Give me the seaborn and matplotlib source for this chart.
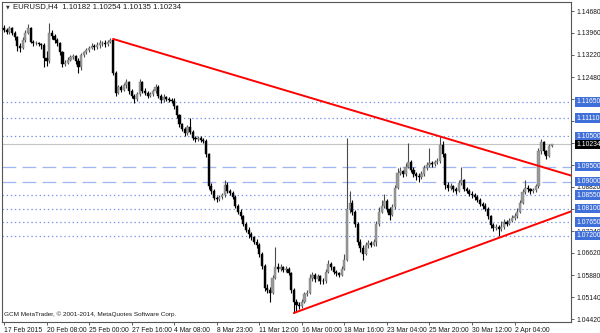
import matplotlib
matplotlib.use('Agg')
import matplotlib.pyplot as plt
import matplotlib.transforms as mtransforms
import seaborn as sns
import numpy as np
import pandas as pd

# ---------------- data (EURUSD H4) ----------------
opens = [
    1.1410, 1.1405, 1.1398, 1.1410, 1.1395, 1.1380, 1.1350, 1.1345, 1.1370, 1.1395,
    1.1410, 1.1365, 1.1360, 1.1362, 1.1358, 1.1355, 1.1310, 1.1300, 1.1395, 1.1385,
    1.1370, 1.1360, 1.1330, 1.1290, 1.1295, 1.1305, 1.1315, 1.1318, 1.1300, 1.1280,
    1.1320, 1.1330, 1.1338, 1.1345, 1.1350, 1.1348, 1.1355, 1.1360, 1.1362, 1.1358,
    1.1365, 1.1372, 1.1260, 1.1195, 1.1215, 1.1205, 1.1220, 1.1230, 1.1200, 1.1185,
    1.1175, 1.1190, 1.1230, 1.1200, 1.1195, 1.1185, 1.1190, 1.1200, 1.1215, 1.1185,
    1.1170, 1.1180, 1.1175, 1.1172,
    1.1168, 1.1150, 1.1120, 1.1090, 1.1075, 1.1060, 1.1080,
    1.1065, 1.1045, 1.1040, 1.1045, 1.1038, 1.1035, 1.0990, 1.0885, 1.0870, 1.0845,
    1.0842, 1.0848, 1.0855, 1.0890, 1.0870, 1.0862, 1.0850, 1.0820, 1.0800, 1.0785,
    1.0760, 1.0740, 1.0725, 1.0715, 1.0700, 1.0690, 1.0660, 1.0620, 1.0545, 1.0540,
    1.0530, 1.0580, 1.0615, 1.0610, 1.0615, 1.0605, 1.0610, 1.0595, 1.0540, 1.0500,
    1.0490, 1.0485, 1.0500, 1.0525, 1.0530, 1.0580, 1.0590, 1.0575, 1.0585, 1.0570,
    1.0568, 1.0600, 1.0625, 1.0615, 1.0600, 1.0595, 1.0590, 1.0610, 1.0640, 1.0810,
    1.0830, 1.0800, 1.0760, 1.0700, 1.0680, 1.0660, 1.0690, 1.0695, 1.0690,
    1.0700, 1.0760, 1.0800, 1.0820, 1.0835, 1.0810, 1.0790, 1.0815, 1.0880, 1.0930, 1.0935, 1.0925,
    1.0950, 1.0965, 1.0940, 1.0925, 1.0920, 1.0915, 1.0925, 1.0945, 1.0955, 1.0960,
    1.0958, 1.0965, 1.0968, 1.1020, 1.0990, 1.0890, 1.0880, 1.0885, 1.0875, 1.0870,
    1.0895, 1.0905, 1.0875, 1.0870, 1.0860, 1.0855, 1.0848, 1.0840, 1.0825, 1.0820,
    1.0810, 1.0785, 1.0755, 1.0745, 1.0750, 1.0742, 1.0748, 1.0765, 1.0760, 1.0770,
    1.0780, 1.0785, 1.0800, 1.0830, 1.0865, 1.0880, 1.0875, 1.0868, 1.0872, 1.0885,
    1.1000, 1.1030, 1.1000, 1.0985, 1.10182,
]
highs = [
    1.1420, 1.1412, 1.1418, 1.1415, 1.1400, 1.1385, 1.1360, 1.1380, 1.1405, 1.1425,
    1.1415, 1.1372, 1.1368, 1.1366, 1.1362, 1.1360, 1.1335, 1.1428, 1.1405, 1.1392,
    1.1378, 1.1365, 1.1335, 1.1305, 1.1315, 1.1322, 1.1325, 1.1322, 1.1310, 1.1328,
    1.1336, 1.1345, 1.1352, 1.1362, 1.1358, 1.1365, 1.1370, 1.1368, 1.1370, 1.1372,
    1.1377, 1.1375, 1.1268, 1.1222, 1.1220, 1.1228, 1.1240, 1.1235, 1.1208, 1.1192,
    1.1198, 1.1240, 1.1235, 1.1210, 1.1200, 1.1198, 1.1208, 1.1225, 1.1220, 1.1190,
    1.1190, 1.1185, 1.1180, 1.1178,
    1.1178, 1.1155, 1.1125, 1.1095, 1.1080, 1.1088, 1.1112,
    1.1070, 1.1050, 1.1052, 1.1050, 1.1045, 1.1040, 1.0995, 1.0895, 1.0875, 1.0852,
    1.0855, 1.0862, 1.0905, 1.0898, 1.0875, 1.0868, 1.0855, 1.0825, 1.0808, 1.0790,
    1.0765, 1.0748, 1.0732, 1.0720, 1.0708, 1.0695, 1.0665, 1.0625, 1.0558, 1.0548,
    1.0590, 1.0682, 1.0628, 1.0625, 1.0620, 1.0618, 1.0615, 1.0600, 1.0545, 1.0510,
    1.0498, 1.0508, 1.0532, 1.0540, 1.0592, 1.0600, 1.0595, 1.0592, 1.0590, 1.0578,
    1.0610, 1.0640, 1.0632, 1.0620, 1.0605, 1.0600, 1.0618, 1.0660, 1.1045, 1.0870,
    1.0840, 1.0805, 1.0765, 1.0710, 1.0688, 1.0700, 1.0705, 1.0702, 1.0708,
    1.0770, 1.0815, 1.0840, 1.0860, 1.0842, 1.0815, 1.0825, 1.0890, 1.0945, 1.0948, 1.0940, 1.0960,
    1.1028, 1.0970, 1.0948, 1.0932, 1.0928, 1.0935, 1.0955, 1.0965, 1.1012, 1.0968,
    1.0972, 1.0978, 1.1050, 1.1035, 1.0995, 1.0900, 1.0895, 1.0890, 1.0882, 1.0905,
    1.0948, 1.0910, 1.0882, 1.0876, 1.0868, 1.0862, 1.0855, 1.0845, 1.0832, 1.0828,
    1.0815, 1.0790, 1.0762, 1.0760, 1.0755, 1.0770, 1.0775, 1.0772, 1.0778, 1.0788,
    1.0795, 1.0812, 1.0840, 1.0875, 1.0905, 1.0888, 1.0880, 1.0880, 1.0892, 1.1010,
    1.1040, 1.1035, 1.1005, 1.1025, 1.10254,
]
lows = [
    1.1398, 1.1390, 1.1392, 1.1388, 1.1372, 1.1335, 1.1330, 1.1340, 1.1365, 1.1390,
    1.1360, 1.1352, 1.1355, 1.1350, 1.1340, 1.1280, 1.1285, 1.1295, 1.1375, 1.1362,
    1.1352, 1.1322, 1.1282, 1.1285, 1.1290, 1.1300, 1.1308, 1.1292, 1.1262, 1.1272,
    1.1315, 1.1325, 1.1332, 1.1340, 1.1338, 1.1342, 1.1345, 1.1350, 1.1348, 1.1352,
    1.1360, 1.1255, 1.1185, 1.1190, 1.1198, 1.1200, 1.1212, 1.1192, 1.1178, 1.1162,
    1.1168, 1.1185, 1.1195, 1.1188, 1.1178, 1.1180, 1.1185, 1.1195, 1.1178, 1.1162,
    1.1165, 1.1168, 1.1165, 1.1160,
    1.1142, 1.1112, 1.1082, 1.1068, 1.1052, 1.1055, 1.1058,
    1.1038, 1.1030, 1.1035, 1.1030, 1.1028, 1.0982, 1.0875, 1.0860, 1.0838, 1.0832,
    1.0835, 1.0842, 1.0850, 1.0862, 1.0855, 1.0842, 1.0812, 1.0792, 1.0775, 1.0752,
    1.0732, 1.0712, 1.0705, 1.0692, 1.0680, 1.0650, 1.0610, 1.0535, 1.0530, 1.0499,
    1.0525, 1.0575, 1.0600, 1.0602, 1.0598, 1.0598, 1.0588, 1.0530, 1.0462, 1.0470,
    1.0475, 1.0478, 1.0495, 1.0518, 1.0525, 1.0570, 1.0565, 1.0568, 1.0560, 1.0558,
    1.0562, 1.0595, 1.0605, 1.0592, 1.0585, 1.0582, 1.0585, 1.0605, 1.0635, 1.0795,
    1.0790, 1.0750, 1.0690, 1.0665, 1.0640, 1.0655, 1.0680, 1.0682, 1.0685,
    1.0685, 1.0752, 1.0795, 1.0812, 1.0800, 1.0772, 1.0785, 1.0810, 1.0875, 1.0922, 1.0915, 1.0920,
    1.0945, 1.0932, 1.0915, 1.0905, 1.0900, 1.0908, 1.0920, 1.0940, 1.0950, 1.0948,
    1.0952, 1.0958, 1.0962, 1.0980, 1.0875, 1.0870, 1.0872, 1.0865, 1.0860, 1.0865,
    1.0890, 1.0868, 1.0862, 1.0852, 1.0845, 1.0840, 1.0832, 1.0818, 1.0810, 1.0802,
    1.0775, 1.0745, 1.0735, 1.0738, 1.0718, 1.0735, 1.0742, 1.0752, 1.0755, 1.0765,
    1.0772, 1.0780, 1.0795, 1.0825, 1.0858, 1.0865, 1.0860, 1.0862, 1.0865, 1.0880,
    1.0990, 1.0990, 1.0975, 1.0980, 1.10135,
]
closes = [
    1.1405, 1.1398, 1.1410, 1.1395, 1.1380, 1.1350, 1.1345, 1.1370, 1.1395, 1.1410,
    1.1365, 1.1360, 1.1362, 1.1358, 1.1355, 1.1310, 1.1300, 1.1395, 1.1385, 1.1370,
    1.1360, 1.1330, 1.1290, 1.1295, 1.1305, 1.1315, 1.1318, 1.1300, 1.1280, 1.1320,
    1.1330, 1.1338, 1.1345, 1.1350, 1.1348, 1.1355, 1.1360, 1.1362, 1.1358, 1.1365,
    1.1372, 1.1260, 1.1195, 1.1215, 1.1205, 1.1220, 1.1230, 1.1200, 1.1185, 1.1175,
    1.1190, 1.1230, 1.1200, 1.1195, 1.1185, 1.1190, 1.1200, 1.1215, 1.1185, 1.1170,
    1.1180, 1.1175, 1.1172, 1.1168,
    1.1150, 1.1120, 1.1090, 1.1075, 1.1060, 1.1080, 1.1065,
    1.1045, 1.1040, 1.1045, 1.1038, 1.1035, 1.0990, 1.0885, 1.0870, 1.0845, 1.0842,
    1.0848, 1.0855, 1.0890, 1.0870, 1.0862, 1.0850, 1.0820, 1.0800, 1.0785, 1.0760,
    1.0740, 1.0725, 1.0715, 1.0700, 1.0690, 1.0660, 1.0620, 1.0545, 1.0540, 1.0530,
    1.0580, 1.0615, 1.0610, 1.0615, 1.0605, 1.0610, 1.0595, 1.0540, 1.0500, 1.0490,
    1.0485, 1.0500, 1.0525, 1.0530, 1.0580, 1.0590, 1.0575, 1.0585, 1.0570, 1.0568,
    1.0600, 1.0625, 1.0615, 1.0600, 1.0595, 1.0590, 1.0610, 1.0640, 1.0810, 1.0830,
    1.0800, 1.0760, 1.0700, 1.0680, 1.0660, 1.0690, 1.0695, 1.0690, 1.0700,
    1.0760, 1.0800, 1.0820, 1.0835, 1.0810, 1.0790, 1.0815, 1.0880, 1.0930, 1.0935, 1.0925, 1.0950,
    1.0965, 1.0940, 1.0925, 1.0920, 1.0915, 1.0925, 1.0945, 1.0955, 1.0960, 1.0958,
    1.0965, 1.0968, 1.1020, 1.0990, 1.0890, 1.0880, 1.0885, 1.0875, 1.0870, 1.0895,
    1.0905, 1.0875, 1.0870, 1.0860, 1.0855, 1.0848, 1.0840, 1.0825, 1.0820, 1.0810,
    1.0785, 1.0755, 1.0745, 1.0750, 1.0742, 1.0748, 1.0765, 1.0760, 1.0770, 1.0780,
    1.0785, 1.0800, 1.0830, 1.0865, 1.0880, 1.0875, 1.0868, 1.0872, 1.0885, 1.1000,
    1.1030, 1.1000, 1.0985, 1.1018, 1.10234,
]

x_tick_bars = [0, 16, 32, 48, 64, 80, 96, 112, 128, 144, 160, 176, 192]
x_tick_labels = ['17 Feb 2015', '20 Feb 08:00', '25 Feb 00:00', '27 Feb 16:00',
                 '4 Mar 08:00', '8 Mar 23:00', '11 Mar 12:00', '16 Mar 00:00',
                 '18 Mar 16:00', '23 Mar 04:00', '25 Mar 20:00', '30 Mar 12:00',
                 '2 Apr 04:00']
y_tick_values = [1.14680, 1.13960, 1.13220, 1.12480, 1.11750, 1.11010, 1.10280,
                 1.09550, 1.08820, 1.08080, 1.07340, 1.06620, 1.05880, 1.05140,
                 1.04420]
y_tick_labels = ['1.14680', '1.13960', '1.13220', '1.12480', '', '', '',
                 '', '1.08820', '', '1.07340', '1.06620', '1.05880', '1.05140',
                 '1.04420']
dotted_levels = [1.11650, 1.11110, 1.10500, 1.08550, 1.08100, 1.07650, 1.07200]
dashed_levels = [1.09500, 1.09000]
last_price = 1.10234
upper_trend_bars = [41, 164]
upper_trend_prices = [1.1375, 1.1050]
lower_trend_bars = [109, 186]
lower_trend_prices = [1.0462, 1.0712]
header_text = 'EURUSD,H4  1.10182 1.10254 1.10135 1.10234'
footer_text = 'GCM MetaTrader, \u00a9 2001-2014, MetaQuotes Software Corp.'

# ---------------- style ----------------
sns.set_theme(style='white')
plt.rcParams['font.family'] = ['Liberation Sans', 'DejaVu Sans']
TXT = '#1a1a1a'
BOX_BLUE = '#3f6fd8'
DOT_BLUE = '#7894e8'
DASH_BLUE = '#a0b5f2'
FS = 4.9

W, H = 600, 333
fig = plt.figure(figsize=(W / 100, H / 100), dpi=100)
ax_l, ax_r, ax_t, ax_b = 2, 571, 2, 322
ax = fig.add_axes([ax_l / W, 1 - ax_b / H, (ax_r - ax_l) / W, (ax_b - ax_t) / H])
fig.patch.set_facecolor('white')
ax.set_facecolor('white')

# pixel mapping -> limits
px_per_bar = 2.659
x0_px = 4
ax.set_xlim((ax_l - x0_px) / px_per_bar, (ax_r - x0_px) / px_per_bar)
price_per_px = (1.14680 - 1.04420) / (319 - 11)
ax.set_ylim(1.14680 - (ax_b - 11) * price_per_px, 1.14680 + (11 - ax_t) * price_per_px)

df = pd.DataFrame({'bar': np.arange(len(closes)), 'open': opens, 'high': highs,
                   'low': lows, 'close': closes})
up = df['close'] >= df['open']

# wicks
ax.vlines(df.loc[up, 'bar'], df.loc[up, 'low'], df.loc[up, 'high'], color='#4a4a4a', lw=0.8, zorder=3)
ax.vlines(df.loc[~up, 'bar'], df.loc[~up, 'low'], df.loc[~up, 'high'], color='black', lw=0.8, zorder=3)
# bodies
bw = 0.8
ub = df[up]
db = df[~up]
ax.bar(ub['bar'], np.maximum(ub['close'] - ub['open'], 0.0001), bottom=ub['open'], width=bw,
       color='#999999', edgecolor='#7a7a7a', linewidth=0.3, zorder=4)
ax.bar(db['bar'], np.maximum(db['open'] - db['close'], 0.0001), bottom=db['close'], width=bw,
       color='black', edgecolor='black', linewidth=0.3, zorder=4)

# horizontal levels
for lv in dotted_levels:
    ax.axhline(lv, color=DOT_BLUE, lw=0.9, ls=(0, (1.1, 2.2)), zorder=1)
for lv in dashed_levels:
    ax.axhline(lv, color=DASH_BLUE, lw=0.9, ls=(0, (11, 5)), zorder=1)
ax.axhline(last_price, color='#c4c4c4', lw=0.8, zorder=1)

# trendlines (extended to the right edge of the plot)
xr = ax.get_xlim()[1]
for bars, prices in [(upper_trend_bars, upper_trend_prices), (lower_trend_bars, lower_trend_prices)]:
    slope = (prices[1] - prices[0]) / (bars[1] - bars[0])
    xs = [bars[0], xr]
    ys = [prices[0], prices[0] + slope * (xr - bars[0])]
    sns.lineplot(x=xs, y=ys, color='#ff0000', lw=1.4, ax=ax, zorder=5)

# axes styling
for s in ['left', 'top', 'right', 'bottom']:
    ax.spines[s].set_visible(True)
    ax.spines[s].set_color('#555555')
    ax.spines[s].set_linewidth(0.8)

ax.yaxis.tick_right()
ax.set_yticks(y_tick_values)
ax.set_yticklabels(y_tick_labels)
ax.tick_params(axis='y', which='both', right=True, left=False, labelright=True, labelleft=False,
               length=2.5, width=0.6, color='#444444', pad=1.5, labelsize=FS, labelcolor=TXT)
ax.set_xticks(x_tick_bars)
ax.set_xticklabels(x_tick_labels)
ax.tick_params(axis='x', which='both', bottom=True, top=False, length=2.5, width=0.6,
               color='#444444', pad=1.2, labelsize=FS, labelcolor=TXT)
for lab in ax.get_xticklabels():
    lab.set_horizontalalignment('left')
ax.set_xlabel('')
ax.set_ylabel('')
ax.grid(False)

# right-side price boxes
trans = mtransforms.blended_transform_factory(ax.transAxes, ax.transData)
box_x = 1 + 5 / (ax_r - ax_l)
for lv in dotted_levels + dashed_levels:
    ax.text(box_x, lv, f'{lv:.5f}', transform=trans, ha='left', va='center', fontsize=FS,
            color='white', clip_on=False, zorder=20,
            bbox=dict(boxstyle='square,pad=0.2', fc=BOX_BLUE, ec='none'))
ax.text(box_x, last_price, f'{last_price:.5f}', transform=trans, ha='left', va='center', fontsize=FS,
        color='white', clip_on=False, zorder=21,
        bbox=dict(boxstyle='square,pad=0.2', fc='black', ec='none'))

# header & footer
fig.text(6 / W, 1 - 7 / H, '\u25bc', fontsize=3.5, color='#333333', va='center', ha='left',
         family=['DejaVu Sans'])
fig.text(13 / W, 1 - 7 / H, header_text, fontsize=5.6, color=TXT, va='center', ha='left')
fig.text(4 / W, 1 - 314 / H, footer_text, fontsize=4.6, color=TXT, va='center', ha='left')

fig.savefig('out.png', dpi=100, facecolor='white')
